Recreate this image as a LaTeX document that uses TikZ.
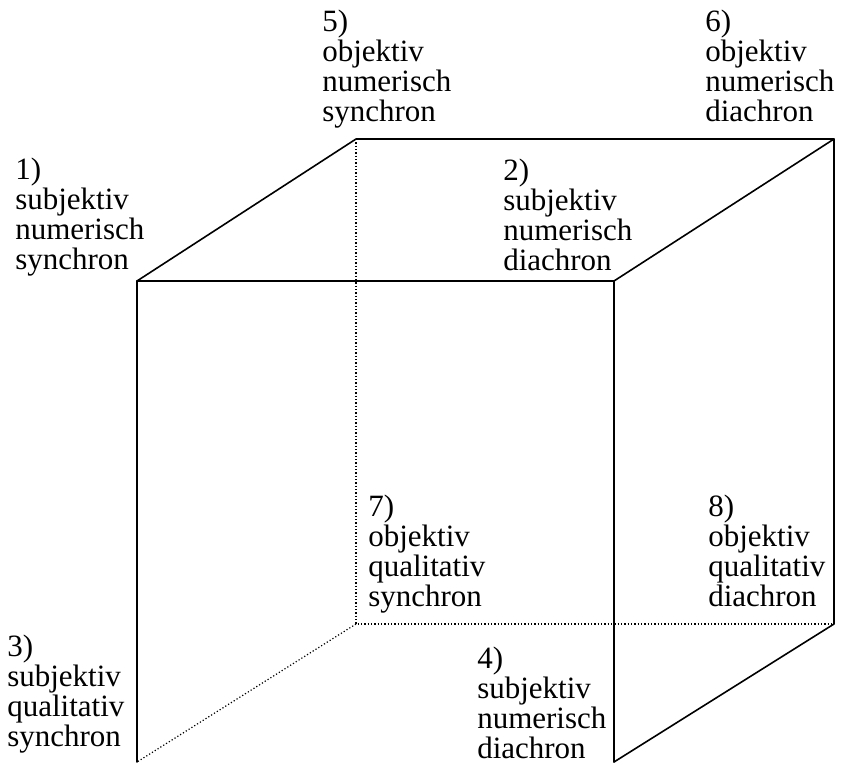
\documentclass[tikz,border=0pt]{standalone}
\usepackage{fontspec}
\setmainfont{Liberation Serif}
\usetikzlibrary{positioning}
\tikzset{
  edge/.style={line width=1.2pt, line cap=round, line join=round},
  hidden/.style={line width=0.9pt, dash pattern=on 0.9pt off 1.6pt},
  lbl/.style={anchor=north west, inner sep=0pt, align=left,
    font=\fontsize{23.25pt}{22.5pt}\selectfont}
}

\begin{document}
\begin{tikzpicture}[x=0.75pt, y=-0.75pt]
  \useasboundingbox (0,0) rectangle (844,765);

  % corners of the cube (front face and back face)
  \coordinate (ftl) at (137,281);
  \coordinate (ftr) at (614,281);
  \coordinate (fbl) at (137,762);
  \coordinate (fbr) at (614,762);
  \coordinate (btl) at (356,139);
  \coordinate (btr) at (834,139);
  \coordinate (bbl) at (356,624);
  \coordinate (bbr) at (834,624);

  % visible edges
  \draw[edge] (fbl) -- (ftl) -- (ftr) -- (fbr);
  \draw[edge] (ftl) -- (btl) -- (btr) -- (bbr) -- (fbr);
  \draw[edge] (ftr) -- (btr);
  % hidden edges
  \draw[hidden] (btl) -- (bbl) -- (bbr);
  \draw[hidden] (bbl) -- (fbl);

  % labels at the corners
  \foreach \n/\x/\y/\a/\b/\c in {
    1/15/158/subjektiv/numerisch/synchron,
    2/503/159/subjektiv/numerisch/diachron,
    3/7/635/subjektiv/qualitativ/synchron,
    4/477/647/subjektiv/numerisch/diachron,
    5/322/10/objektiv/numerisch/synchron,
    6/705/10/objektiv/numerisch/diachron,
    7/368/495/objektiv/qualitativ/synchron,
    8/708/495/objektiv/qualitativ/diachron} {
    \node[lbl] (l\n) at (\x,\y) {\n)\\\a\\\b\\\c};
  }
\end{tikzpicture}
\end{document}
